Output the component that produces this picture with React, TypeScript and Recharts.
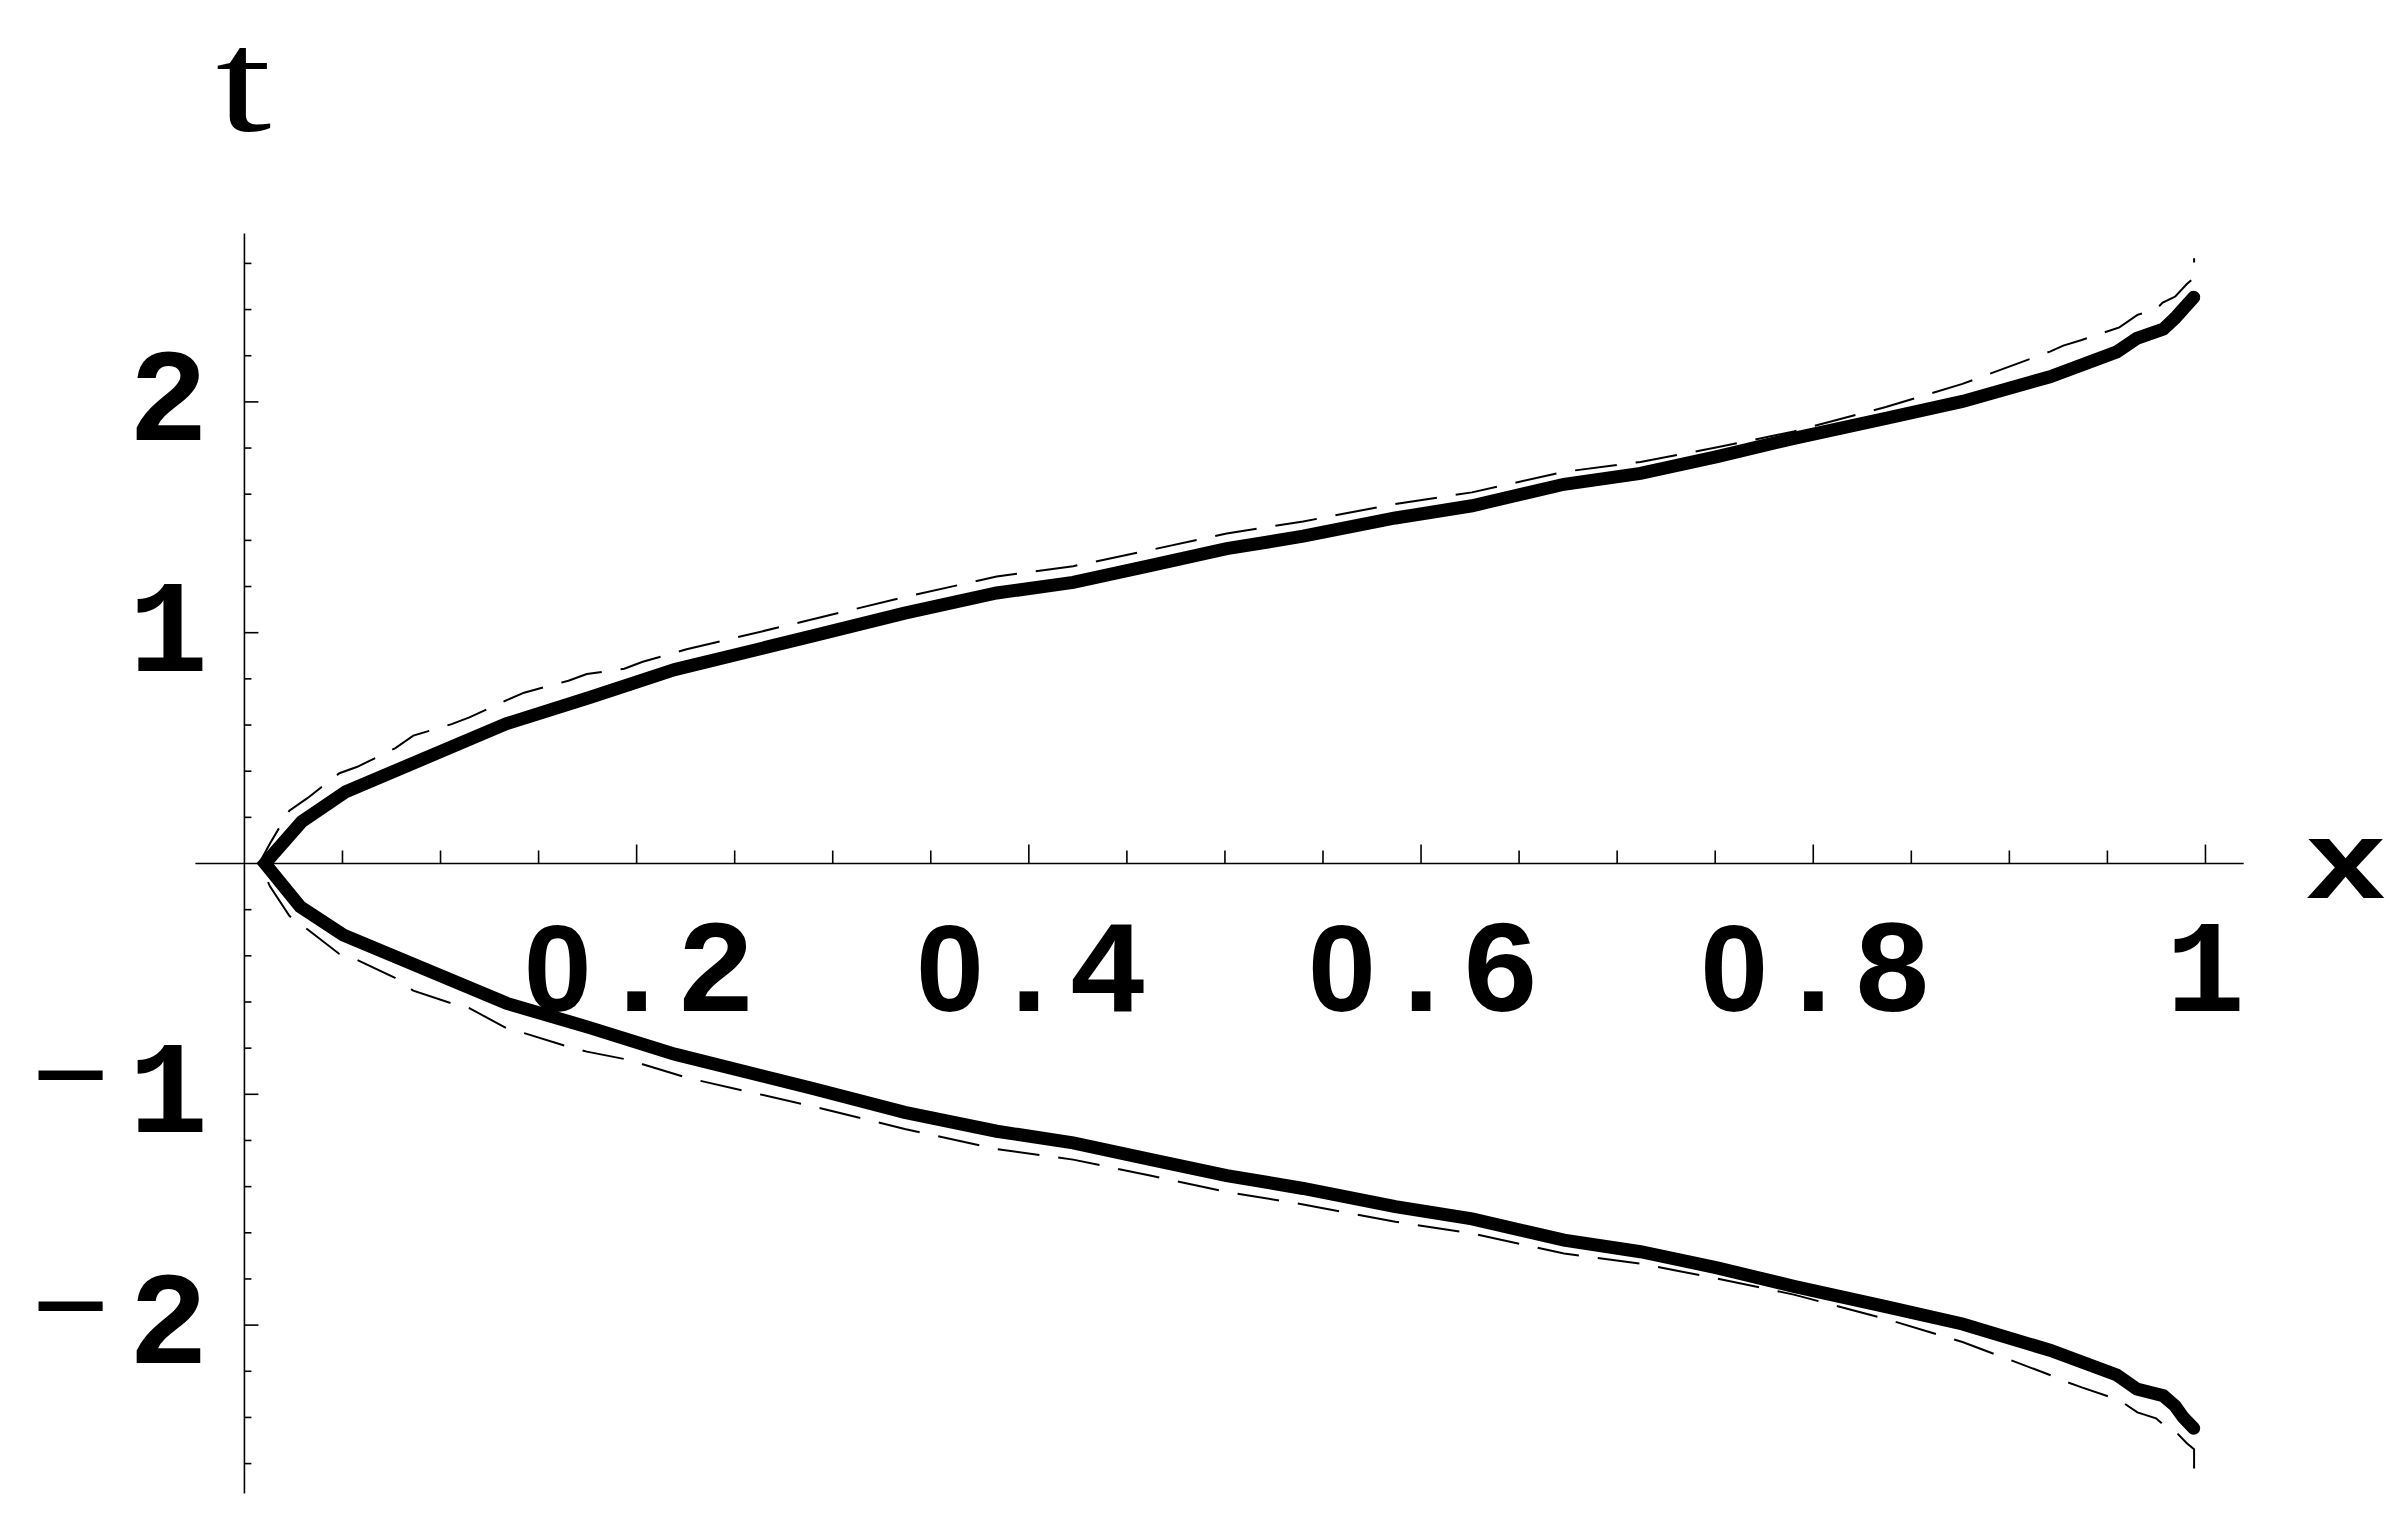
import React from "react";
import { LineChart, Line, XAxis, YAxis, ReferenceLine, ReferenceDot } from "recharts";

// solid curve, upper branch (x, t)
const solidUpperX = [0.0105, 0.0292, 0.0517, 0.1334, 0.1764, 0.2194, 0.2898, 0.3367, 0.3836, 0.4226, 0.4618, 0.5009, 0.5399, 0.5869, 0.626, 0.6729, 0.7119, 0.751, 0.7901, 0.837, 0.8761, 0.9207, 0.9548, 0.965, 0.9785, 0.9845, 0.9887, 0.994];
const solidUpperT = [0, 0.181, 0.311, 0.605, 0.72, 0.84, 0.986, 1.085, 1.172, 1.218, 1.291, 1.364, 1.418, 1.497, 1.55, 1.643, 1.69, 1.763, 1.842, 1.929, 2.002, 2.109, 2.217, 2.275, 2.315, 2.363, 2.403, 2.453];

// solid curve, lower branch
const solidLowerX = [0.0105, 0.0284, 0.0504, 0.1338, 0.1764, 0.2194, 0.2898, 0.3367, 0.3836, 0.4226, 0.4618, 0.5009, 0.5399, 0.5869, 0.626, 0.6729, 0.7119, 0.751, 0.7901, 0.837, 0.8761, 0.9207, 0.9548, 0.965, 0.9785, 0.9845, 0.9887, 0.994];
const solidLowerT = [0, -0.187, -0.31, -0.606, -0.712, -0.826, -0.975, -1.078, -1.16, -1.21, -1.282, -1.352, -1.408, -1.487, -1.54, -1.632, -1.682, -1.752, -1.832, -1.92, -1.995, -2.109, -2.216, -2.277, -2.306, -2.35, -2.4, -2.447];

// dashed curve, upper branch
const dashedUpperX = [0.0075, 0.0131, 0.0229, 0.0321, 0.0484, 0.0576, 0.0768, 0.0861, 0.1057, 0.1147, 0.1338, 0.1426, 0.1652, 0.1746, 0.1937, 0.2031, 0.2255, 0.2898, 0.3367, 0.3836, 0.4226, 0.4618, 0.5009, 0.5399, 0.5869, 0.626, 0.6729, 0.7119, 0.751, 0.7901, 0.837, 0.8761, 0.9207, 0.9275, 0.9369, 0.9561, 0.9653, 0.9748, 0.9782, 0.9845, 0.9905, 0.9942, 0.9942];
const dashedUpperT = [0, 0.0875, 0.229, 0.283, 0.391, 0.419, 0.499, 0.554, 0.604, 0.633, 0.708, 0.74, 0.792, 0.821, 0.844, 0.874, 0.928, 1.058, 1.155, 1.243, 1.288, 1.358, 1.43, 1.482, 1.558, 1.608, 1.697, 1.74, 1.803, 1.872, 1.978, 2.078, 2.218, 2.244, 2.268, 2.323, 2.377, 2.401, 2.43, 2.456, 2.511, 2.538, 2.622];

// dashed curve, lower branch
const dashedLowerX = [0.0075, 0.0131, 0.0229, 0.0321, 0.0484, 0.0576, 0.0768, 0.0861, 0.1057, 0.1147, 0.1338, 0.1431, 0.1652, 0.1746, 0.1937, 0.2031, 0.2255, 0.2898, 0.3367, 0.3836, 0.4226, 0.4618, 0.5009, 0.5399, 0.5869, 0.626, 0.6729, 0.7119, 0.751, 0.7901, 0.837, 0.8761, 0.9207, 0.9275, 0.9369, 0.9561, 0.9653, 0.9748, 0.9782, 0.9845, 0.9905, 0.9942, 0.9942];
const dashedLowerT = [0, -0.1, -0.227, -0.285, -0.392, -0.418, -0.495, -0.551, -0.606, -0.627, -0.714, -0.736, -0.794, -0.815, -0.847, -0.87, -0.928, -1.052, -1.15, -1.237, -1.283, -1.352, -1.423, -1.477, -1.552, -1.603, -1.69, -1.734, -1.798, -1.868, -1.973, -2.073, -2.216, -2.241, -2.27, -2.325, -2.378, -2.404, -2.429, -2.459, -2.512, -2.538, -2.621];

// axis ticks
const xMajorTicks = [0.2, 0.4, 0.6, 0.8, 1];
const xTickLabels = ["0.2", "0.4", "0.6", "0.8", "1"];
const xMinorTicks = [0.05, 0.1, 0.15, 0.25, 0.3, 0.35, 0.45, 0.5, 0.55, 0.65, 0.7, 0.75, 0.85, 0.9, 0.95];
const tMajorTicks = [2, 1, -1, -2];
const tTickLabels = ["2", "1", "\u22121", "\u22122"];
const tMinorTicks = [2.6, 2.4, 2.2, 1.8, 1.6, 1.4, 1.2, 0.8, 0.6, 0.4, 0.2, -0.2, -0.4, -0.6, -0.8, -1.2, -1.4, -1.6, -1.8, -2.2, -2.4, -2.6];

const X_DOMAIN: [number, number] = [-0.025, 1.0195];
const T_DOMAIN: [number, number] = [-2.73, 2.73];

const branch = (xs: number[], ts: number[]) => xs.map((x, i) => ({ x, t: ts[i] }));

// each curve runs from the bottom end, through the vertex, to the top end
const solidCurve = [
  ...branch(solidLowerX, solidLowerT).reverse(),
  ...branch(solidUpperX, solidUpperT).slice(1),
];
const dashedCurve = [
  ...branch(dashedLowerX, dashedLowerT).reverse(),
  ...branch(dashedUpperX, dashedUpperT).slice(1),
];

const tickFont: React.CSSProperties = {
  fontFamily: "'Liberation Mono', 'DejaVu Sans Mono', monospace",
  fontWeight: "bold",
  fontSize: 132,
};
// plain (undotted) zero, like the courier zero of the original
const zeroFont: React.CSSProperties = {
  fontFamily: "'Liberation Sans', Arial, sans-serif",
  fontWeight: "bold",
  fontSize: 122,
};
const ADVANCE = 79;

const xTick = (len: number) => (p: any) => (
  <line x1={p.cx} y1={p.cy} x2={p.cx} y2={p.cy - len} stroke="#000" strokeWidth={1.6} />
);

const tTick = (len: number) => (p: any) => (
  <line x1={p.cx} y1={p.cy} x2={p.cx + len} y2={p.cy} stroke="#000" strokeWidth={1.6} />
);

const xLabel = (label: string) => (p: any) => {
  const chars = label.split("");
  const mid = (chars.length - 1) / 2;
  return (
    <text textAnchor="middle" fill="#000" style={tickFont}>
      {chars.map((c, i) => (
        <tspan
          key={i}
          x={p.cx + (i - mid) * ADVANCE}
          y={p.cy + 147}
          style={c === "0" ? zeroFont : undefined}
        >
          {c}
        </tspan>
      ))}
    </text>
  );
};

const tLabel = (label: string) => (p: any) => {
  const neg = label.startsWith("\u2212");
  const digit = neg ? label.slice(1) : label;
  return (
    <text textAnchor="middle" fill="#000" style={tickFont}>
      {neg && (
        <tspan x={p.cx - 174} y={p.cy + 25} fontWeight="normal">
          {"\u2212"}
        </tspan>
      )}
      <tspan x={p.cx - 76} y={p.cy + 38}>
        {digit}
      </tspan>
    </text>
  );
};

const tAxisName = (p: any) => (
  <text
    transform={`translate(${p.cx - 1},${p.cy - 102}) scale(1.36,1)`}
    textAnchor="middle"
    fill="#000"
    style={{ fontFamily: "'Liberation Serif', 'DejaVu Serif', serif", fontSize: 147 }}
  >
    t
  </text>
);

const xAxisName = (p: any) => (
  <text
    transform={`translate(${p.cx + 102},${p.cy + 34}) scale(1.25,1)`}
    textAnchor="middle"
    fill="#000"
    style={{ ...tickFont, fontSize: 112 }}
  >
    x
  </text>
);

export default function App() {
  return (
    <div style={{ width: 2396, height: 1506, background: "#fff" }}>
      <LineChart
        width={2396}
        height={1506}
        margin={{ top: 225.4, right: 160.3, bottom: 20.4, left: 187.4 }}
      >
        <XAxis dataKey="x" type="number" domain={X_DOMAIN} allowDataOverflow hide />
        <YAxis dataKey="t" type="number" domain={T_DOMAIN} allowDataOverflow hide />

        <ReferenceLine y={0} stroke="#000" strokeWidth={1.6} />
        <ReferenceLine x={0} stroke="#000" strokeWidth={1.6} />

        {xMinorTicks.map((v) => (
          <ReferenceDot key={`xm${v}`} x={v} y={0} shape={xTick(13)} />
        ))}
        {xMajorTicks.map((v) => (
          <ReferenceDot key={`xM${v}`} x={v} y={0} shape={xTick(19)} />
        ))}
        {xMajorTicks.map((v, i) => (
          <ReferenceDot key={`xl${v}`} x={v} y={0} shape={xLabel(xTickLabels[i])} />
        ))}
        {tMinorTicks.map((v) => (
          <ReferenceDot key={`tm${v}`} x={0} y={v} shape={tTick(7)} />
        ))}
        {tMajorTicks.map((v) => (
          <ReferenceDot key={`tM${v}`} x={0} y={v} shape={tTick(14)} />
        ))}
        {tMajorTicks.map((v, i) => (
          <ReferenceDot key={`tl${v}`} x={0} y={v} shape={tLabel(tTickLabels[i])} />
        ))}
        <ReferenceDot x={0} y={T_DOMAIN[1]} ifOverflow="visible" shape={tAxisName} />
        <ReferenceDot x={X_DOMAIN[1]} y={0} ifOverflow="visible" shape={xAxisName} />

        <Line
          data={dashedCurve}
          dataKey="t"
          type="linear"
          stroke="#000"
          strokeWidth={2}
          strokeDasharray="42 19"
          dot={false}
          activeDot={false}
          isAnimationActive={false}
        />
        <Line
          data={solidCurve}
          dataKey="t"
          type="linear"
          stroke="#000"
          strokeWidth={13}
          strokeLinecap="round"
          strokeLinejoin="miter"
          dot={false}
          activeDot={false}
          isAnimationActive={false}
        />
      </LineChart>
    </div>
  );
}
